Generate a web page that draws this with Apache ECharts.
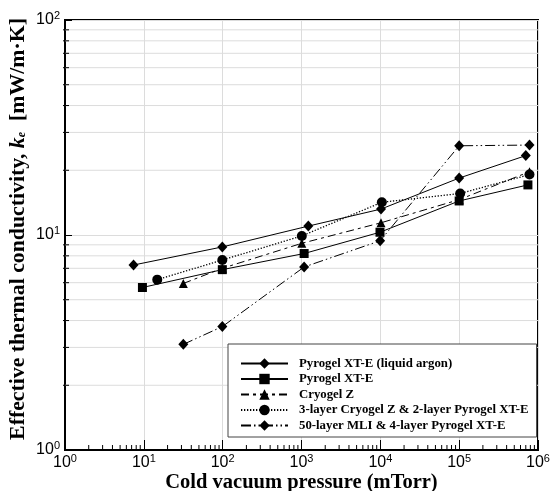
<!DOCTYPE html>
<html><head><meta charset="utf-8">
<script src="https://cdn.jsdelivr.net/npm/echarts@6/dist/echarts.min.js"></script>
<style>html,body{margin:0;padding:0;background:#fff}#c{width:558px;height:491px}</style>
</head><body><div id="c"></div>
<script>
// ---- data ----
const seriesNames = [
  'Pyrogel XT-E (liquid argon)',
  'Pyrogel XT-E',
  'Cryogel Z',
  '3-layer Cryogel Z & 2-layer Pyrogel XT-E',
  '50-layer MLI & 4-layer Pyrogel XT-E'
];
const pressureArgon = [7.4, 99, 1220, 10200, 100000, 700000];
const kArgon        = [7.25, 8.8, 11.0, 13.2, 18.4, 23.4];
const pressureXTE   = [9.6, 99, 1080, 9900, 100000, 745000];
const kXTE          = [5.7, 6.9, 8.2, 10.3, 14.4, 17.1];
const pressureCZ    = [31.7, 99, 1010, 10200, 100000, 780000];
const kCZ           = [5.95, 7.0, 9.15, 11.4, 14.6, 19.7];
const pressure3L    = [14.8, 99, 1010, 10450, 103000, 780000];
const k3L           = [6.2, 7.65, 9.9, 14.2, 15.6, 19.1];
const pressureMLI   = [31.7, 99, 1080, 9940, 100000, 780000];
const kMLI          = [3.1, 3.75, 7.1, 9.4, 26.0, 26.2];

// axis tick values
const xMajorTicks = [1, 10, 100, 1000, 10000, 100000, 1000000];
const yMajorTicks = [1, 10, 100];
const minorMultipliers = [2, 3, 4, 5, 6, 7, 8, 9];

const xMinor = [];
xMajorTicks.slice(0, -1).forEach(d => minorMultipliers.forEach(m => xMinor.push(d * m)));
const yMinor = [];
yMajorTicks.slice(0, -1).forEach(d => minorMultipliers.forEach(m => yMinor.push(d * m)));

const zip = (xs, ys) => xs.map((x, i) => [x, ys[i]]);

const chart = echarts.init(document.getElementById('c'));

const supLabel = v => {
  const e = Math.round(Math.log10(v));
  return '{b|10}{s|' + e + '}';
};
const labelRich = {
  b: {fontFamily: 'Liberation Sans', fontSize: 16, color: '#000'},
  s: {fontFamily: 'Liberation Sans', fontSize: 11, color: '#000', padding: [0, 0, 9, 0]}
};

const base = {
  type: 'line', symbolSize: 9, z: 5,
  itemStyle: {color: '#000'},
  lineStyle: {color: '#000', width: 1}
};

chart.setOption({
  animation: false,
  backgroundColor: '#fff',
  grid: {left: 65, top: 20, right: 20, bottom: 41, containLabel: false, outerBoundsMode: 'none',
    show: true, borderColor: '#000', borderWidth: 2, backgroundColor: 'transparent'},
  xAxis: {
    type: 'log', logBase: 10, min: 1, max: 1000000,
    name: 'Cold vacuum pressure (mTorr)', nameLocation: 'middle', nameGap: 22, nameMoveOverlap: false,
    nameTextStyle: {fontFamily: 'Liberation Serif', fontWeight: 'bold', fontSize: 20.5, color: '#000', verticalAlign: 'top'},
    axisLine: {lineStyle: {color: '#000', width: 2}},
    axisTick: {inside: true, length: 10, lineStyle: {color: '#000', width: 1}},
    axisLabel: {formatter: supLabel, rich: labelRich, margin: 3},
    splitLine: {show: true, lineStyle: {color: '#dcdcdc', width: 1}},
    minorTick: {show: false}
  },
  yAxis: {
    type: 'log', logBase: 10, min: 1, max: 100,
    name: 'Effective thermal conductivity, {k|k}{e|e}  [mW/m·K]', nameLocation: 'middle', nameGap: 36, nameRotate: 90, nameMoveOverlap: false,
    nameTextStyle: {fontFamily: 'Liberation Serif', fontWeight: 'bold', fontSize: 21.8, color: '#000', padding: [0, 0, 0, 12],
      rich: {
        k: {fontFamily: 'Liberation Serif', fontWeight: 'bold', fontStyle: 'italic', fontSize: 21.8, color: '#000'},
        e: {fontFamily: 'Liberation Serif', fontWeight: 'bold', fontStyle: 'italic', fontSize: 12, color: '#000', padding: [8, 0, 0, 0]}
      }},
    axisLine: {lineStyle: {color: '#000', width: 2}},
    axisTick: {inside: true, length: 7, lineStyle: {color: '#000', width: 1}},
    axisLabel: {formatter: supLabel, rich: labelRich, margin: 5},
    splitLine: {show: true, lineStyle: {color: '#dcdcdc', width: 1}},
    minorTick: {show: false}
  },
  legend: {
    orient: 'vertical', left: 228, top: 344,
    padding: [13, 8, 5, 12],
    itemWidth: 47, itemHeight: 13, itemGap: 2.5,
    borderColor: '#444', borderWidth: 1, backgroundColor: '#fff',
    textStyle: {fontFamily: 'Liberation Serif', fontWeight: 'bold', fontSize: 12.8, lineHeight: 13, color: '#000', padding: [0, 0, 0, 6]},
    data: seriesNames
  },
  series: [
    {
      type: 'custom', z: 1, silent: true, legendHoverLink: false,
      data: yMinor.map(v => [1, v]),
      renderItem: (params, api) => {
        const cs = params.coordSys;
        const p = api.coord([1, api.value(1)]);
        return {type: 'group', children: [
          {type: 'line', shape: {x1: cs.x, y1: p[1], x2: cs.x + cs.width, y2: p[1]}, style: {stroke: '#dcdcdc', lineWidth: 1}},
          {type: 'line', shape: {x1: cs.x - 2, y1: p[1], x2: cs.x + 4, y2: p[1]}, style: {stroke: '#000', lineWidth: 1}}
        ]};
      }
    },
    {
      type: 'custom', z: 1, silent: true,
      data: xMinor.map(v => [v, 1]),
      renderItem: (params, api) => {
        const cs = params.coordSys;
        const p = api.coord([api.value(0), 1]);
        return {type: 'line', shape: {x1: p[0], y1: cs.y + cs.height, x2: p[0], y2: cs.y + cs.height - 5}, style: {stroke: '#000', lineWidth: 1}};
      }
    },
    Object.assign({}, base, {name: seriesNames[0], data: zip(pressureArgon, kArgon), symbol: 'diamond', symbolSize: [10, 11]}),
    Object.assign({}, base, {name: seriesNames[1], data: zip(pressureXTE, kXTE), symbol: 'rect', symbolSize: 9}),
    Object.assign({}, base, {name: seriesNames[2], data: zip(pressureCZ, kCZ), symbol: 'triangle', symbolSize: 9,
      lineStyle: {color: '#000', width: 1, type: [8, 4, 3, 4]}}),
    Object.assign({}, base, {name: seriesNames[3], data: zip(pressure3L, k3L), symbol: 'circle', symbolSize: 10,
      lineStyle: {color: '#000', width: 1.3, type: [1.3, 1.7]}}),
    Object.assign({}, base, {name: seriesNames[4], data: zip(pressureMLI, kMLI), symbol: 'diamond', symbolSize: [10, 11],
      lineStyle: {color: '#000', width: 1, type: [10, 3, 1.5, 3, 1.5, 3]}})
  ]
});
</script></body></html>
